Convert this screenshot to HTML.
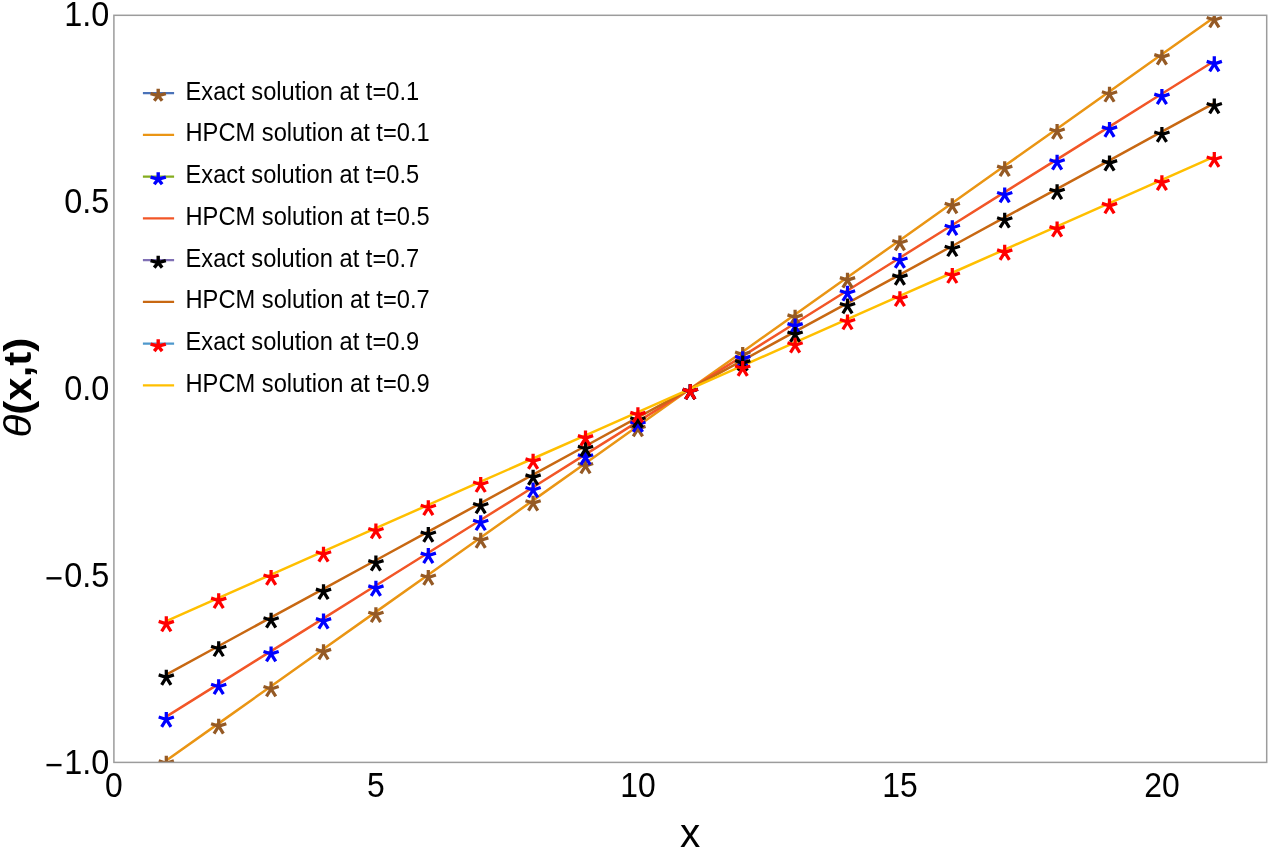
<!DOCTYPE html>
<html><head><meta charset="utf-8"><style>
html,body{margin:0;padding:0;background:#fff;}
svg{display:block;will-change:transform;}
text{font-family:"Liberation Sans",sans-serif;fill:#000;}
</style></head><body>
<svg width="1270" height="849" viewBox="0 0 1270 849">
<defs><clipPath id="c"><rect x="113.90" y="15.30" width="1152.80" height="747.10"/></clipPath>
<path id="s" d="M0 0L0.000 -7.500M0 0L7.608 -2.472M0 0L4.663 7.463M0 0L-4.663 7.463M0 0L-7.608 -2.472" stroke-width="3.25" fill="none"/>
<path id="ls" d="M0 0L0.000 -6.850M0 0L7.631 -2.045M0 0L3.940 5.043M0 0L-3.940 5.043M0 0L-7.631 -2.045" stroke-width="3.4" fill="none"/>
</defs>

<g clip-path="url(#c)" fill="none" stroke-linejoin="round">
<polyline points="166.30,760.53 218.70,723.37 271.10,686.20 323.50,649.03 375.90,611.86 428.30,574.69 480.70,537.52 533.10,500.36 585.50,463.19 637.90,426.02 690.30,388.85 742.70,351.68 795.10,314.51 847.50,277.34 899.90,240.18 952.30,203.01 1004.70,165.84 1057.10,128.67 1109.50,91.50 1161.90,54.33 1214.30,17.17" stroke="#EA9514" stroke-width="2.5"/>
<polyline points="166.30,716.67 218.70,683.89 271.10,651.11 323.50,618.32 375.90,585.54 428.30,552.76 480.70,519.98 533.10,487.20 585.50,454.41 637.90,421.63 690.30,388.85 742.70,356.07 795.10,323.29 847.50,290.50 899.90,257.72 952.30,224.94 1004.70,192.16 1057.10,159.38 1109.50,126.59 1161.90,93.81 1214.30,61.03" stroke="#F25627" stroke-width="2.5"/>
<polyline points="166.30,674.56 218.70,645.99 271.10,617.42 323.50,588.84 375.90,560.27 428.30,531.70 480.70,503.13 533.10,474.56 585.50,445.99 637.90,417.42 690.30,388.85 742.70,360.28 795.10,331.71 847.50,303.14 899.90,274.57 952.30,246.00 1004.70,217.43 1057.10,188.86 1109.50,160.28 1161.90,131.71 1214.30,103.14" stroke="#C86812" stroke-width="2.5"/>
<polyline points="166.30,621.05 218.70,597.83 271.10,574.61 323.50,551.39 375.90,528.17 428.30,504.95 480.70,481.73 533.10,458.51 585.50,435.29 637.90,412.07 690.30,388.85 742.70,365.63 795.10,342.41 847.50,319.19 899.90,295.97 952.30,272.75 1004.70,249.53 1057.10,226.31 1109.50,203.09 1161.90,179.87 1214.30,156.65" stroke="#FFBF00" stroke-width="2.5"/>
<g stroke="#955A25">
<use href="#s" transform="translate(166.30,763.33) scale(1.0,1.0)"/>
<use href="#s" transform="translate(218.70,726.17) scale(1.0,1.0)"/>
<use href="#s" transform="translate(271.10,689.00) scale(1.0,1.0)"/>
<use href="#s" transform="translate(323.50,651.83) scale(1.0,1.0)"/>
<use href="#s" transform="translate(375.90,614.66) scale(1.0,1.0)"/>
<use href="#s" transform="translate(428.30,577.49) scale(1.0,1.0)"/>
<use href="#s" transform="translate(480.70,540.32) scale(1.0,1.0)"/>
<use href="#s" transform="translate(533.10,503.16) scale(1.0,1.0)"/>
<use href="#s" transform="translate(585.50,465.99) scale(1.0,1.0)"/>
<use href="#s" transform="translate(637.90,428.82) scale(1.0,1.0)"/>
<use href="#s" transform="translate(690.30,391.65) scale(1.0,1.0)"/>
<use href="#s" transform="translate(742.70,354.48) scale(1.0,1.0)"/>
<use href="#s" transform="translate(795.10,317.31) scale(1.0,1.0)"/>
<use href="#s" transform="translate(847.50,280.14) scale(1.0,1.0)"/>
<use href="#s" transform="translate(899.90,242.98) scale(1.0,1.0)"/>
<use href="#s" transform="translate(952.30,205.81) scale(1.0,1.0)"/>
<use href="#s" transform="translate(1004.70,168.64) scale(1.0,1.0)"/>
<use href="#s" transform="translate(1057.10,131.47) scale(1.0,1.0)"/>
<use href="#s" transform="translate(1109.50,94.30) scale(1.0,1.0)"/>
<use href="#s" transform="translate(1161.90,57.13) scale(1.0,1.0)"/>
<use href="#s" transform="translate(1214.30,19.97) scale(1.0,1.0)"/>
</g>
<g stroke="#0000FF">
<use href="#s" transform="translate(166.30,719.47) scale(1.0,1.0)"/>
<use href="#s" transform="translate(218.70,686.69) scale(1.0,1.0)"/>
<use href="#s" transform="translate(271.10,653.91) scale(1.0,1.0)"/>
<use href="#s" transform="translate(323.50,621.12) scale(1.0,1.0)"/>
<use href="#s" transform="translate(375.90,588.34) scale(1.0,1.0)"/>
<use href="#s" transform="translate(428.30,555.56) scale(1.0,1.0)"/>
<use href="#s" transform="translate(480.70,522.78) scale(1.0,1.0)"/>
<use href="#s" transform="translate(533.10,490.00) scale(1.0,1.0)"/>
<use href="#s" transform="translate(585.50,457.21) scale(1.0,1.0)"/>
<use href="#s" transform="translate(637.90,424.43) scale(1.0,1.0)"/>
<use href="#s" transform="translate(690.30,391.65) scale(1.0,1.0)"/>
<use href="#s" transform="translate(742.70,358.87) scale(1.0,1.0)"/>
<use href="#s" transform="translate(795.10,326.09) scale(1.0,1.0)"/>
<use href="#s" transform="translate(847.50,293.30) scale(1.0,1.0)"/>
<use href="#s" transform="translate(899.90,260.52) scale(1.0,1.0)"/>
<use href="#s" transform="translate(952.30,227.74) scale(1.0,1.0)"/>
<use href="#s" transform="translate(1004.70,194.96) scale(1.0,1.0)"/>
<use href="#s" transform="translate(1057.10,162.18) scale(1.0,1.0)"/>
<use href="#s" transform="translate(1109.50,129.39) scale(1.0,1.0)"/>
<use href="#s" transform="translate(1161.90,96.61) scale(1.0,1.0)"/>
<use href="#s" transform="translate(1214.30,63.83) scale(1.0,1.0)"/>
</g>
<g stroke="#000000">
<use href="#s" transform="translate(166.30,677.36) scale(1.0,1.0)"/>
<use href="#s" transform="translate(218.70,648.79) scale(1.0,1.0)"/>
<use href="#s" transform="translate(271.10,620.22) scale(1.0,1.0)"/>
<use href="#s" transform="translate(323.50,591.64) scale(1.0,1.0)"/>
<use href="#s" transform="translate(375.90,563.07) scale(1.0,1.0)"/>
<use href="#s" transform="translate(428.30,534.50) scale(1.0,1.0)"/>
<use href="#s" transform="translate(480.70,505.93) scale(1.0,1.0)"/>
<use href="#s" transform="translate(533.10,477.36) scale(1.0,1.0)"/>
<use href="#s" transform="translate(585.50,448.79) scale(1.0,1.0)"/>
<use href="#s" transform="translate(637.90,420.22) scale(1.0,1.0)"/>
<use href="#s" transform="translate(690.30,391.65) scale(1.0,1.0)"/>
<use href="#s" transform="translate(742.70,363.08) scale(1.0,1.0)"/>
<use href="#s" transform="translate(795.10,334.51) scale(1.0,1.0)"/>
<use href="#s" transform="translate(847.50,305.94) scale(1.0,1.0)"/>
<use href="#s" transform="translate(899.90,277.37) scale(1.0,1.0)"/>
<use href="#s" transform="translate(952.30,248.80) scale(1.0,1.0)"/>
<use href="#s" transform="translate(1004.70,220.23) scale(1.0,1.0)"/>
<use href="#s" transform="translate(1057.10,191.66) scale(1.0,1.0)"/>
<use href="#s" transform="translate(1109.50,163.08) scale(1.0,1.0)"/>
<use href="#s" transform="translate(1161.90,134.51) scale(1.0,1.0)"/>
<use href="#s" transform="translate(1214.30,105.94) scale(1.0,1.0)"/>
</g>
<g stroke="#FF0000">
<use href="#s" transform="translate(166.30,623.85) scale(1.0,1.0)"/>
<use href="#s" transform="translate(218.70,600.63) scale(1.0,1.0)"/>
<use href="#s" transform="translate(271.10,577.41) scale(1.0,1.0)"/>
<use href="#s" transform="translate(323.50,554.19) scale(1.0,1.0)"/>
<use href="#s" transform="translate(375.90,530.97) scale(1.0,1.0)"/>
<use href="#s" transform="translate(428.30,507.75) scale(1.0,1.0)"/>
<use href="#s" transform="translate(480.70,484.53) scale(1.0,1.0)"/>
<use href="#s" transform="translate(533.10,461.31) scale(1.0,1.0)"/>
<use href="#s" transform="translate(585.50,438.09) scale(1.0,1.0)"/>
<use href="#s" transform="translate(637.90,414.87) scale(1.0,1.0)"/>
<use href="#s" transform="translate(690.30,391.65) scale(1.0,1.0)"/>
<use href="#s" transform="translate(742.70,368.43) scale(1.0,1.0)"/>
<use href="#s" transform="translate(795.10,345.21) scale(1.0,1.0)"/>
<use href="#s" transform="translate(847.50,321.99) scale(1.0,1.0)"/>
<use href="#s" transform="translate(899.90,298.77) scale(1.0,1.0)"/>
<use href="#s" transform="translate(952.30,275.55) scale(1.0,1.0)"/>
<use href="#s" transform="translate(1004.70,252.33) scale(1.0,1.0)"/>
<use href="#s" transform="translate(1057.10,229.11) scale(1.0,1.0)"/>
<use href="#s" transform="translate(1109.50,205.89) scale(1.0,1.0)"/>
<use href="#s" transform="translate(1161.90,182.67) scale(1.0,1.0)"/>
<use href="#s" transform="translate(1214.30,159.45) scale(1.0,1.0)"/>
</g>
</g>
<rect x="113.90" y="15.30" width="1152.80" height="747.10" fill="none" stroke="#9c9c9c" stroke-width="1.5"/>
<text transform="translate(113.90,797.3) scale(0.89,1)" font-size="35.8" text-anchor="middle">0</text>
<text transform="translate(375.90,797.3) scale(0.89,1)" font-size="35.8" text-anchor="middle">5</text>
<text transform="translate(637.90,797.3) scale(0.89,1)" font-size="35.8" text-anchor="middle">10</text>
<text transform="translate(899.90,797.3) scale(0.89,1)" font-size="35.8" text-anchor="middle">15</text>
<text transform="translate(1161.90,797.3) scale(0.89,1)" font-size="35.8" text-anchor="middle">20</text>
<text transform="translate(109.2,26.40) scale(0.905,1)" font-size="35.8" text-anchor="end">1.0</text>
<text transform="translate(109.2,213.18) scale(0.905,1)" font-size="35.8" text-anchor="end">0.5</text>
<text transform="translate(109.2,399.95) scale(0.905,1)" font-size="35.8" text-anchor="end">0.0</text>
<text transform="translate(109.2,586.73) scale(0.905,1)" font-size="35.8" text-anchor="end">0.5</text>
<rect x="46.5" y="577.12" width="15" height="2.4" fill="#000"/>
<text transform="translate(109.2,773.50) scale(0.905,1)" font-size="35.8" text-anchor="end">1.0</text>
<rect x="46.5" y="763.90" width="15" height="2.4" fill="#000"/>
<text x="690.2" y="847.3" font-size="40.5" text-anchor="middle">x</text>
<text transform="translate(31.1,387.6) rotate(-90) scale(1,0.93)" font-size="42" font-weight="bold" text-anchor="middle"><tspan font-style="italic" font-weight="normal">θ</tspan>(x,t)</text>
<line x1="142.9" y1="93.20" x2="174.1" y2="93.20" stroke="#4A72B8" stroke-width="2.2"/>
<use href="#ls" stroke="#955A25" transform="translate(158.2,95.70) scale(1.0,1.0)"/>
<text transform="translate(185.5,99.60) scale(0.948,1)" font-size="25">Exact solution at t=0.1</text>
<line x1="142.9" y1="134.93" x2="174.1" y2="134.93" stroke="#EA9514" stroke-width="2.2"/>
<text transform="translate(185.5,141.33) scale(0.948,1)" font-size="25">HPCM solution at t=0.1</text>
<line x1="142.9" y1="176.66" x2="174.1" y2="176.66" stroke="#84AC1E" stroke-width="2.2"/>
<use href="#ls" stroke="#0000FF" transform="translate(158.2,179.16) scale(1.0,1.0)"/>
<text transform="translate(185.5,183.06) scale(0.948,1)" font-size="25">Exact solution at t=0.5</text>
<line x1="142.9" y1="218.39" x2="174.1" y2="218.39" stroke="#F25627" stroke-width="2.2"/>
<text transform="translate(185.5,224.79) scale(0.948,1)" font-size="25">HPCM solution at t=0.5</text>
<line x1="142.9" y1="260.12" x2="174.1" y2="260.12" stroke="#8070B5" stroke-width="2.2"/>
<use href="#ls" stroke="#000000" transform="translate(158.2,262.62) scale(1.0,1.0)"/>
<text transform="translate(185.5,266.52) scale(0.948,1)" font-size="25">Exact solution at t=0.7</text>
<line x1="142.9" y1="301.85" x2="174.1" y2="301.85" stroke="#C86812" stroke-width="2.2"/>
<text transform="translate(185.5,308.25) scale(0.948,1)" font-size="25">HPCM solution at t=0.7</text>
<line x1="142.9" y1="343.58" x2="174.1" y2="343.58" stroke="#4E98CC" stroke-width="2.2"/>
<use href="#ls" stroke="#FF0000" transform="translate(158.2,346.08) scale(1.0,1.0)"/>
<text transform="translate(185.5,349.98) scale(0.948,1)" font-size="25">Exact solution at t=0.9</text>
<line x1="142.9" y1="385.31" x2="174.1" y2="385.31" stroke="#FFBF00" stroke-width="2.2"/>
<text transform="translate(185.5,391.71) scale(0.948,1)" font-size="25">HPCM solution at t=0.9</text>
</svg></body></html>
